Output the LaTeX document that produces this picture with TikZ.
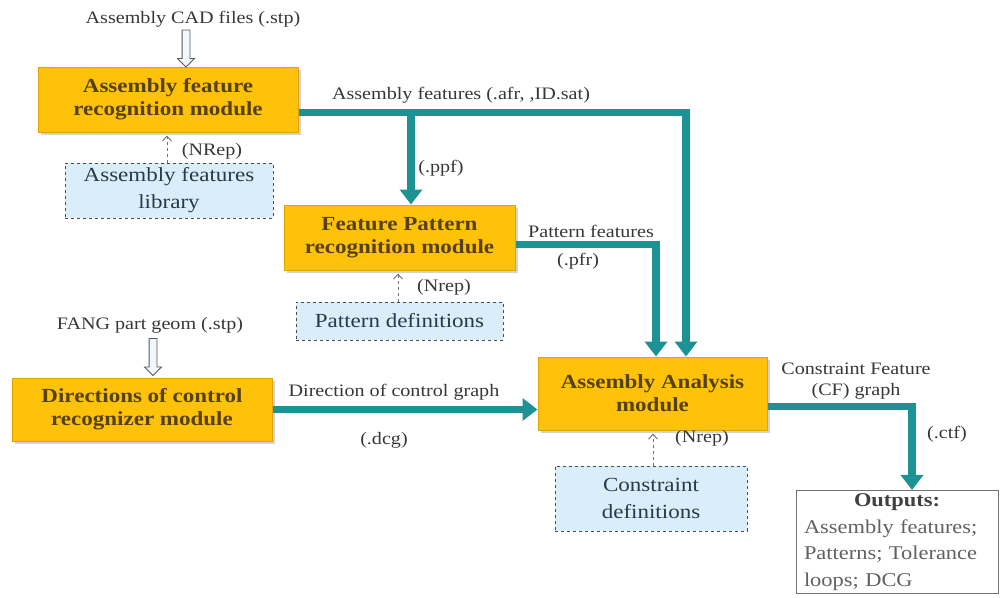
\documentclass[tikz,border=0pt]{standalone}
\usepackage{fontspec}
\setmainfont{Liberation Serif}[FakeStretch=1.15]
\usetikzlibrary{arrows.meta,calc,shapes.arrows,shadows}

\definecolor{modfill}{RGB}{255,194,10}
\definecolor{moddraw}{RGB}{222,165,0}
\definecolor{modtext}{RGB}{85,65,10}
\definecolor{libfill}{RGB}{218,238,250}
\definecolor{libtext}{RGB}{35,60,75}
\definecolor{flowcol}{RGB}{28,146,148}
\definecolor{labgray}{RGB}{55,55,55}

\begin{document}
\begin{tikzpicture}[x=1pt,y=-1pt,>=Stealth,
  module/.style={draw=moddraw,fill=modfill,line width=1pt,align=center,
    text=modtext,font=\fontsize{20}{23}\selectfont\bfseries,
    drop shadow={opacity=0.35,shadow xshift=3pt,shadow yshift=-3pt}},
  store/.style={draw=black!70,dashed,fill=libfill,line width=0.8pt,align=center,
    text=libtext,font=\fontsize{20}{27}\selectfont},
  lbl/.style={text=labgray,font=\fontsize{17.5}{20}\selectfont,inner sep=1pt},
  flow/.style={draw=flowcol,line width=7.5pt,
    -{Triangle[width=22pt,length=15pt]}},
  ref/.style={draw=black!55,dashed,line width=0.9pt,
    -{Straight Barb[length=5pt,width=9pt]},shorten >=3pt},
  hollow/.style={single arrow,draw=black!65,fill=libfill!40,line width=0.8pt,
    minimum height=37pt,inner xsep=0pt,inner ysep=3.5pt,
    single arrow head extend=4.5pt,rotate=-90}]

\useasboundingbox (0,0) rectangle (1003,597);

% modules
\node[module,minimum width=260pt,minimum height=65pt] (fa) at (168,99.5)
  {Assembly feature\\recognition module};
\node[module,minimum width=231pt,minimum height=65pt] (fp) at (399.5,237.5)
  {Feature Pattern\\recognition module};
\node[module,minimum width=260pt,minimum height=63pt] (dcr) at (142,409.5)
  {Directions of control\\recognizer module};
\node[module,minimum width=229pt,minimum height=73pt] (aa) at (652.5,393.5)
  {Assembly Analysis\\module};

% libraries
\node[store,minimum width=208pt,minimum height=55pt] (aflib) at (169,190.5)
  {Assembly features\\library};
\node[store,minimum width=207pt,minimum height=38pt] (pdef) at (399.5,321)
  {Pattern definitions};
\node[store,minimum width=192pt,minimum height=65pt] (cdef) at (651,498.5)
  {Constraint\\definitions};

% outputs
\node[draw=black!55,fill=white,line width=0.8pt,minimum width=202pt,minimum height=100pt,
  text width=186pt,align=left,inner xsep=8pt,text=black!62,
  font=\fontsize{19.5}{26.5}\selectfont] (out) at (897,542)
  {\makebox[186pt]{\bfseries\color{black!75}Outputs:}\\
   \makebox[186pt][s]{Assembly features;}\\
   \makebox[186pt][s]{Patterns; Tolerance}\\
   loops; DCG};

% inputs
\node[lbl] (cad) at (193,19) {Assembly CAD files (.stp)};
\node[lbl] (fang) at (150,325) {FANG part geom (.stp)};
\node[hollow] (cadarr) at (186,46.5) {};
\node[hollow] (fangarr) at (153,355) {};

% data flow
\coordinate (afout) at ([yshift=-13pt]fa.east);
\coordinate (ppfin) at ([xshift=11.5pt]fp.north);
\draw[flow] (afout) -| ([xshift=33.5pt]aa.north);
\draw[flow] (afout -| ppfin) -- (ppfin);
\draw[flow] ([yshift=-7pt]fp.east) -| ([xshift=3.5pt]aa.north);
\draw[flow] (dcr.east) -- (dcr.east -| aa.west);
\draw[flow] ([yshift=-13pt]aa.east) -| (out.north -| 912,0);

% references
\draw[ref] (aflib.north -| 167,0) -- (fa.south -| 167,0);
\draw[ref] (pdef.north -| 398,0) -- (fp.south -| 398,0);
\draw[ref] (cdef.north -| 653,0) -- (aa.south -| 653,0);

% labels
\node[lbl] (afl) at (461,95) {Assembly features (.afr, ,ID.sat)};
\node[lbl] (ppfl) at (441,168) {(.ppf)};
\node[lbl] (pfl) at (591,231) {Pattern features};
\node[lbl] (pfrl) at (578,261) {(.pfr)};
\node[lbl] (dcgl) at (394,392) {Direction of control graph};
\node[lbl] (dcgx) at (384,440) {(.dcg)};
\node[lbl,align=center,font=\fontsize{17.5}{21}\selectfont] (cfl) at (856,381)
  {Constraint Feature\\(CF) graph};
\node[lbl] (ctfl) at (947,434) {(.ctf)};
\node[lbl] (nr1) at (212,151) {(NRep)};
\node[lbl] (nr2) at (444,287) {(Nrep)};
\node[lbl] (nr3) at (702,438) {(Nrep)};
\end{tikzpicture}
\end{document}
